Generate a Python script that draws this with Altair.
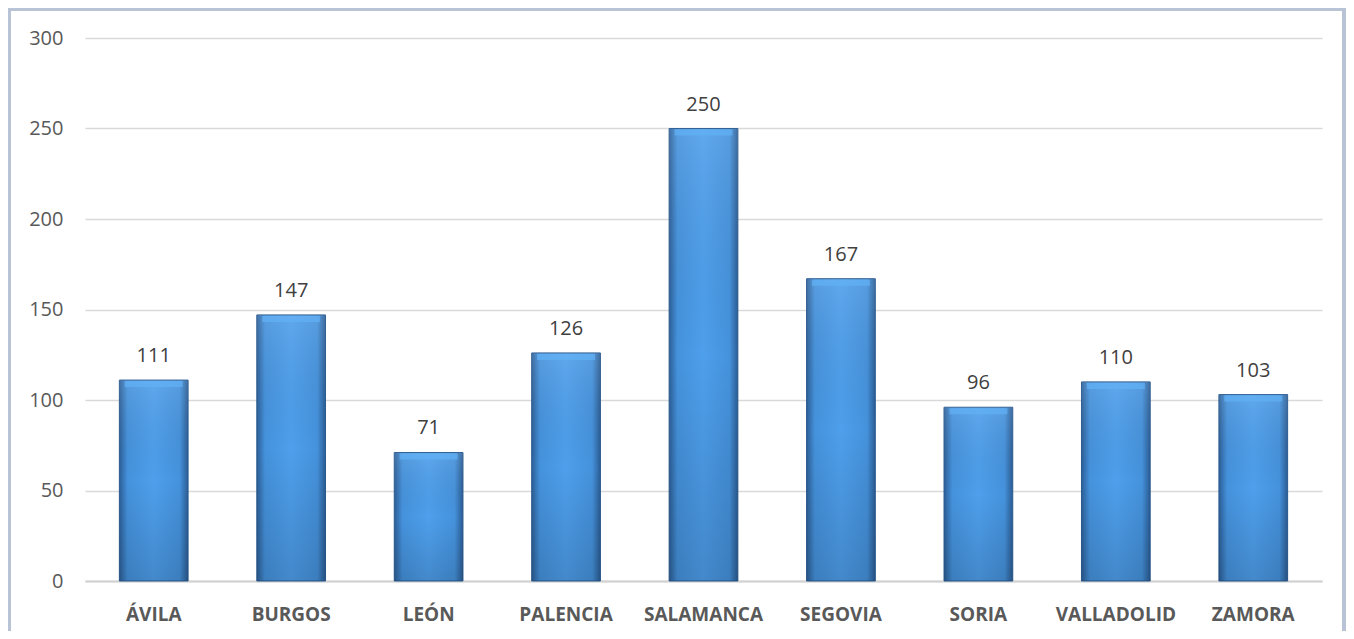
import altair as alt
import pandas as pd

provincias = ["ÁVILA", "BURGOS", "LEÓN", "PALENCIA", "SALAMANCA", "SEGOVIA", "SORIA", "VALLADOLID", "ZAMORA"]
valores = [111, 147, 71, 126, 250, 167, 96, 110, 103]
y_ticks = [0, 50, 100, 150, 200, 250, 300]

df = pd.DataFrame({"provincia": provincias, "valor": valores})

FONT = "Open Sans"

x_enc = alt.X(
    "provincia:N",
    sort=provincias,
    scale=alt.Scale(paddingInner=0.5, paddingOuter=0.25),
    axis=alt.Axis(
        title=None, labelAngle=0, ticks=False, grid=False,
        domain=True, domainColor="#d0d0d0", domainWidth=2,
        labelFontWeight="bold", labelFontSize=19, labelColor="#595959",
        labelPadding=24, labelFont=FONT,
    ),
)
y_enc = alt.Y(
    "valor:Q",
    scale=alt.Scale(domain=[0, 300], nice=False),
    axis=alt.Axis(
        title=None, values=y_ticks, ticks=False, domain=False,
        grid=True, gridColor="#d9d9d9", gridWidth=1.5,
        labelFontSize=20, labelColor="#595959", labelPadding=22, labelFont=FONT,
    ),
)

base = alt.Chart(df).encode(x=x_enc, y=y_enc)

bars = base.mark_bar(
    color=alt.Gradient(
        gradient="linear", x1=0, x2=1, y1=0, y2=0,
        stops=[
            alt.GradientStop(color="#2c5f98", offset=0),
            alt.GradientStop(color="#4592dc", offset=0.12),
            alt.GradientStop(color="#4e9fec", offset=0.5),
            alt.GradientStop(color="#4592dc", offset=0.88),
            alt.GradientStop(color="#2b5d95", offset=1),
        ],
    ),
    stroke="#2a5a8f", strokeWidth=1,
)

shade = base.mark_bar(
    color=alt.Gradient(
        gradient="linear", x1=0, x2=0, y1=0, y2=1,
        stops=[
            alt.GradientStop(color="rgba(255,255,255,0.10)", offset=0),
            alt.GradientStop(color="rgba(0,0,0,0.00)", offset=0.5),
            alt.GradientStop(color="rgba(0,0,0,0.14)", offset=1),
        ],
    ),
)

bevel = base.mark_tick(
    color="#62b0f5", opacity=0.7, thickness=6, yOffset=4, size=58,
)

labels = base.mark_text(
    dy=-18, baseline="alphabetic", fontSize=20, color="#404040", font=FONT,
).encode(text="valor:Q")

border = alt.Chart(pd.DataFrame({"a": [0]})).mark_rect(
    fillOpacity=0, stroke="#b8c3d6", strokeWidth=4,
).encode(
    x=alt.value(-76), x2=alt.value(1259), y=alt.value(-29), y2=alt.value(640),
)

chart = alt.layer(bars, shade, bevel, labels, border).properties(
    width=1237, height=543,
    padding={"left": 77, "top": 30, "right": 24, "bottom": 50},
    autosize="none",
    background="white",
).configure(font=FONT).configure_view(strokeWidth=0, stroke=None)

chart.save("out.html", embed_options={"renderer": "svg", "actions": False})
